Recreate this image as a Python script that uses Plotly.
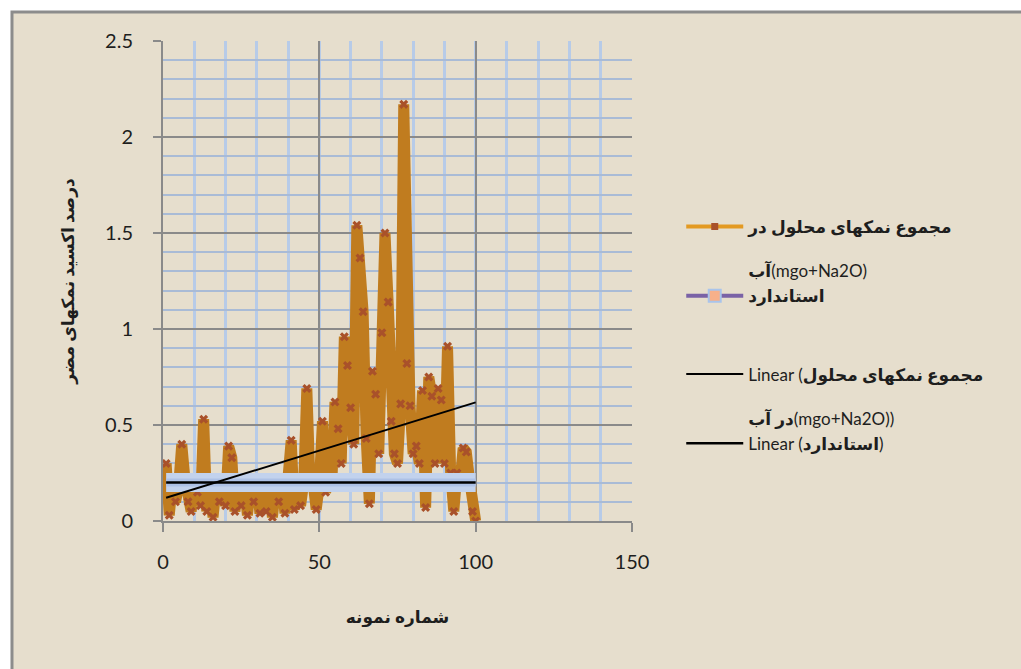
import numpy as np
import plotly.graph_objects as go

# Sample numbers and measured total dissolved salts (mgo + Na2O), percent
sample_no = list(range(1, 101))
salts_pct = [
    0.30, 0.03, 0.20, 0.10, 0.18, 0.40, 0.22, 0.10, 0.05, 0.20,
    0.15, 0.08, 0.53, 0.05, 0.20, 0.02, 0.18, 0.10, 0.20, 0.08,
    0.39, 0.33, 0.05, 0.18, 0.08, 0.20, 0.03, 0.18, 0.10, 0.20,
    0.04, 0.18, 0.05, 0.20, 0.02, 0.18, 0.10, 0.21, 0.04, 0.18,
    0.42, 0.06, 0.20, 0.08, 0.20, 0.69, 0.20, 0.20, 0.06, 0.19,
    0.52, 0.15, 0.22, 0.20, 0.62, 0.48, 0.30, 0.96, 0.81, 0.59,
    0.40, 1.54, 1.37, 1.09, 0.43, 0.09, 0.78, 0.66, 0.35, 0.98,
    1.50, 1.14, 0.52, 0.35, 0.30, 0.61, 2.17, 0.82, 0.60, 0.35,
    0.39, 0.30, 0.68, 0.07, 0.75, 0.65, 0.30, 0.69, 0.63, 0.30,
    0.91, 0.25, 0.05, 0.25, 0.20, 0.38, 0.36, 0.22, 0.05, 0.00,
]
# Permitted limit (standard)
standard_pct = [0.2] * 100

# Tick values
x_ticks = [0, 50, 100, 150]
y_ticks = [0, 0.5, 1, 1.5, 2, 2.5]

# Legend texts
name_salts = "<b>مجموع نمکهای محلول در</b><br><br><b>آب</b>(mgo+Na2O)"
name_std = "<b>استاندارد</b>"
name_salts_fit = "Linear (<b>مجموع نمکهای محلول</b><br><br><b>در آب</b>(mgo+Na2O))"
name_std_fit = "Linear (<b>استاندارد</b>)"

x_title = "شماره نمونه"
y_title = "درصد اکسید نمکهای مضر"

x = np.array(sample_no, dtype=float)
y = np.array(salts_pct)
s = np.array(standard_pct)

# least-squares trend lines
k1, b1 = np.polyfit(x, y, 1)
k2, b2 = np.polyfit(x, s, 1)
fit_x = [x.min(), x.max()]
fit_salts = [k1 * v + b1 for v in fit_x]
fit_std = [k2 * v + b2 for v in fit_x]

FONT = "Lato, 'DejaVu Sans', sans-serif"

fig = go.Figure()

# measured series: thick orange-brown line with x markers
fig.add_trace(go.Scatter(
    x=sample_no, y=salts_pct, mode="lines+markers",
    line=dict(color="#c07c1f", width=11),
    marker=dict(symbol="x", size=8, color="#a9512a",
                line=dict(width=0)),
    showlegend=False, legendgroup="a",
))
# standard: wide pale-blue band
fig.add_trace(go.Scatter(
    x=sample_no, y=standard_pct, mode="lines",
    line=dict(color="#c2d2ed", width=19),
    showlegend=False, legendgroup="a",
))
fig.add_trace(go.Scatter(
    x=sample_no, y=standard_pct, mode="lines",
    line=dict(color="#adc1e6", width=8),
    showlegend=False, legendgroup="a",
))
# trend lines
fig.add_trace(go.Scatter(
    x=fit_x, y=fit_salts, mode="lines",
    line=dict(color="black", width=2),
    name=name_salts_fit, legendgroup="b", showlegend=True, legendrank=3,
))
fig.add_trace(go.Scatter(
    x=fit_x, y=fit_std, mode="lines",
    line=dict(color="black", width=2.5),
    name=name_std_fit, legendgroup="b", showlegend=True, legendrank=4,
))

# legend-only entries styled like the series keys
fig.add_trace(go.Scatter(
    x=[None], y=[None], mode="lines+markers",
    line=dict(color="#e39a22", width=4),
    marker=dict(symbol="square", size=7, color="#a9512a"),
    name=name_salts, legendgroup="a", legendrank=1,
))
fig.add_trace(go.Scatter(
    x=[None], y=[None], mode="lines+markers",
    line=dict(color="#7a62a6", width=4),
    marker=dict(symbol="square", size=12, color="#f7b08a",
                line=dict(color="#a9c4eb", width=2)),
    name=name_std, legendgroup="a", legendrank=2,
))

# chart frame
fig.add_shape(
    type="rect", xref="paper", yref="paper",
    x0=-0.322, x1=1.86, y0=-0.34, y1=1.0604,
    fillcolor="#e6decd", line=dict(color="#8c8c8c", width=3),
    layer="below",
)

axis_font = dict(family=FONT, size=20, color="#1e1e1e")

fig.update_xaxes(
    range=[0, 150], tickvals=x_ticks, tickfont=axis_font,
    showgrid=True, gridcolor="#8a8a8a", gridwidth=1.5,
    minor=dict(dtick=10, tick0=0, showgrid=True,
               gridcolor="#b7cbe8", gridwidth=3),
    showline=True, linecolor="#8a8a8a", linewidth=2,
    ticks="outside", ticklen=9, tickcolor="#8a8a8a", tickwidth=2,
    ticklabelstandoff=13, zeroline=False,
    title=dict(text=f"<b>{x_title}</b>",
               font=dict(family=FONT, size=17, color="#1e1e1e"),
               standoff=39),
)
fig.update_yaxes(
    range=[0, 2.5], tickvals=y_ticks, ticktext=["0", "0.5", "1", "1.5", "2", "2.5"],
    tickfont=axis_font,
    showgrid=True, gridcolor="#8a8a8a", gridwidth=1.5,
    minor=dict(dtick=0.1, tick0=0, showgrid=True,
               gridcolor="#a9bbd6", gridwidth=2),
    showline=True, linecolor="#8a8a8a", linewidth=2,
    ticks="outside", ticklen=8, tickcolor="#8a8a8a", tickwidth=2,
    ticklabelstandoff=16, zeroline=False,
    title=dict(text=f"<b>{y_title}</b>",
               font=dict(family=FONT, size=17, color="#1e1e1e"),
               standoff=26),
)

fig.update_layout(
    width=1021, height=669,
    margin=dict(l=163, r=389, t=41, b=148),
    paper_bgcolor="white",
    plot_bgcolor="rgba(0,0,0,0)",
    font=dict(family=FONT, color="#1e1e1e"),
    legend=dict(
        x=1.105, y=0.65, xanchor="left", yanchor="top",
        bgcolor="rgba(0,0,0,0)",
        font=dict(family=FONT, size=17, color="#1e1e1e"),
        traceorder="grouped", tracegroupgap=53,
        itemwidth=57, valign="top",
    ),
)

fig.write_html("out.html")
